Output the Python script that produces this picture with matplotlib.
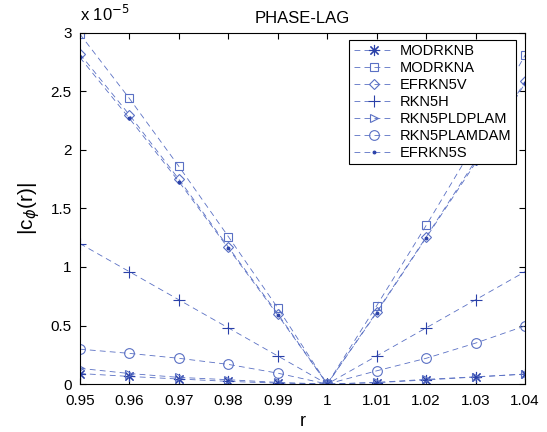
import matplotlib
matplotlib.use("Agg")
import matplotlib.pyplot as plt
from matplotlib.ticker import FuncFormatter

plt.rcParams["font.family"] = ["Liberation Sans", "DejaVu Sans"]

# values in units of 1e-5
r = [0.95, 0.96, 0.97, 0.98, 0.99, 1.00, 1.01, 1.02, 1.03, 1.04]
modrknb = [0.09, 0.065, 0.043, 0.023, 0.008, 0.0, 0.012, 0.035, 0.060, 0.085]
modrkna = [2.99, 2.44, 1.86, 1.26, 0.65, 0.0, 0.67, 1.355, 2.06, 2.81]
efrkn5v = [2.82, 2.30, 1.75, 1.17, 0.60, 0.0, 0.617, 1.256, 1.91, 2.585]
rkn5h = [1.20, 0.96, 0.72, 0.48, 0.24, 0.0, 0.24, 0.48, 0.72, 0.96]
rkn5pldplam = [0.134, 0.09, 0.057, 0.037, 0.014, 0.0, 0.014, 0.04, 0.062, 0.085]
rkn5plamdam = [0.298, 0.262, 0.22, 0.168, 0.093, 0.0, 0.113, 0.22, 0.35, 0.497]
efrkn5s = [2.79, 2.27, 1.73, 1.16, 0.59, 0.0, 0.61, 1.25, 1.89, 2.57]

asterisk = (8, 2, 0)
series = [
    ("MODRKNB", modrknb, asterisk, 8),
    ("MODRKNA", modrkna, "s", 6),
    ("EFRKN5V", efrkn5v, "D", 5.5),
    ("RKN5H", rkn5h, "+", 9),
    ("RKN5PLDPLAM", rkn5pldplam, ">", 6),
    ("RKN5PLAMDAM", rkn5plamdam, "o", 7),
    ("EFRKN5S", efrkn5s, ".", 4),
]

line_col = "#5a70c4"
mark_col = "#2a40a8"

fig = plt.figure(figsize=(5.47, 4.32), dpi=100)
ax = fig.add_axes([0.146, 0.111, 0.814, 0.813])

for name, vals, m, size in series:
    dark = m in ("+", ".") or m == asterisk
    ax.plot(r, vals, linestyle=(0, (7, 5)), lw=0.6, color=line_col,
            marker=m, markersize=size,
            markerfacecolor=mark_col if m == "." else "none",
            markeredgecolor=mark_col if dark else line_col,
            markeredgewidth=0.8, label=name)

ax.set_xlim(0.95, 1.04)
ax.set_ylim(0, 3)
ax.set_xticks(r)
ax.set_yticks([0, 0.5, 1, 1.5, 2, 2.5, 3])
fmt = FuncFormatter(lambda v, p: "%g" % round(v, 4))
ax.xaxis.set_major_formatter(fmt)
ax.yaxis.set_major_formatter(fmt)
ax.tick_params(direction="in", top=True, right=True, labelsize=11, length=4)
ax.tick_params(axis="x", pad=7)
ax.tick_params(axis="y", pad=6)
for s in ax.spines.values():
    s.set_linewidth(0.8)

ax.text(0.0, 1.025, r"x 10$^{-5}$", transform=ax.transAxes, fontsize=12,
        ha="left", va="bottom")
ax.set_title("PHASE-LAG", fontsize=12, pad=7)
ax.set_xlabel("r", fontsize=13, labelpad=4)
ax.set_ylabel(r"|c$_{\phi}$(r)|", fontsize=15, labelpad=6)

leg = ax.legend(loc="upper right", bbox_to_anchor=(0.98, 0.98), borderaxespad=0,
                fontsize=10.5, fancybox=False, edgecolor="black", framealpha=1,
                handlelength=2.8, borderpad=0.3, labelspacing=0.2,
                handletextpad=0.4)
leg.get_frame().set_linewidth(0.8)

fig.savefig("out.png", dpi=100)
